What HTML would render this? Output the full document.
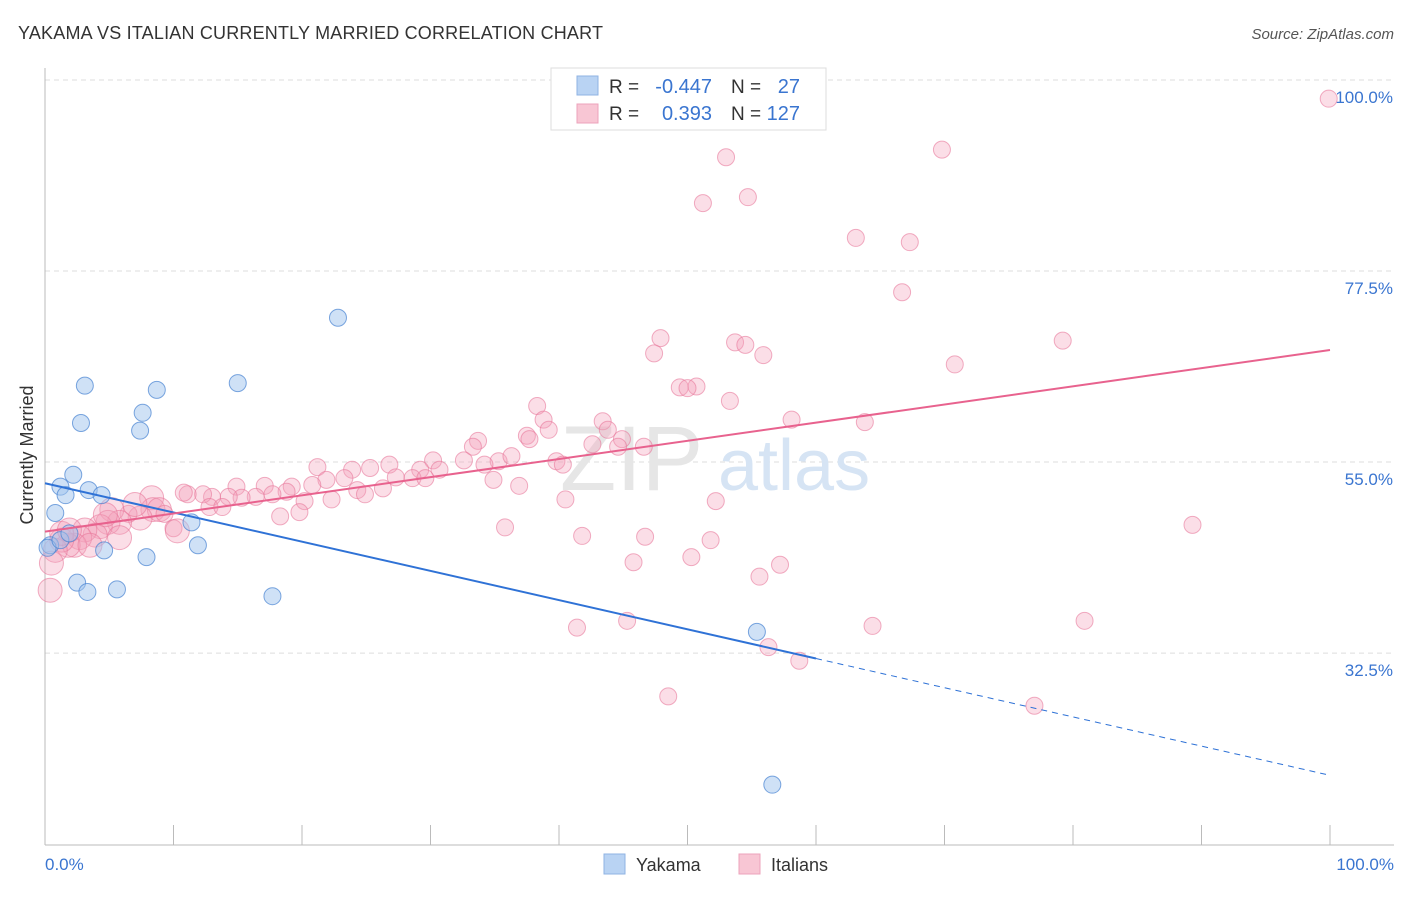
<!DOCTYPE html>
<html><head><meta charset="utf-8"><style>
body{margin:0;background:#fff;font-family:"Liberation Sans",sans-serif;}
svg text{font-family:"Liberation Sans",sans-serif;}
</style></head><body>
<svg width="1406" height="892" xmlns="http://www.w3.org/2000/svg">
<text x="18" y="39" font-size="18" fill="#333" textLength="585">YAKAMA VS ITALIAN CURRENTLY MARRIED CORRELATION CHART</text>
<text x="1394" y="39" font-size="15" fill="#555" font-style="italic" text-anchor="end">Source: ZipAtlas.com</text>
<g id="grid"></g>
<text x="560" y="490" font-size="92" fill="#e6e6e6" font-family="Liberation Serif">ZIP</text>
<text x="718" y="490" font-size="72" fill="#d6e4f4">atlas</text>
<line x1="45" y1="68" x2="45" y2="845" stroke="#bbb"/>
<line x1="45" y1="845" x2="1394" y2="845" stroke="#bbb"/>
<g id="ticks"></g>
<g id="pts"></g>
<g id="trend"></g>
<text x="33" y="455" font-size="18" fill="#333" transform="rotate(-90 33 455)" text-anchor="middle">Currently Married</text>
<text x="45" y="870" font-size="17" fill="#3a75d0">0.0%</text>
<text x="1394" y="870" font-size="17" fill="#3a75d0" text-anchor="end">100.0%</text>
<g>
<rect x="551" y="68" width="275" height="62" fill="#fff" stroke="#ddd"/>
<rect x="577" y="76" width="21" height="19" fill="#b9d3f3" stroke="#8fb3e3"/>
<rect x="577" y="104" width="21" height="19" fill="#f8c6d4" stroke="#eca3bb"/>
<text x="609" y="93" font-size="19" fill="#333">R =</text>
<text x="712" y="93" font-size="20" fill="#3a75d0" text-anchor="end">-0.447</text>
<text x="731" y="93" font-size="19" fill="#333">N =</text>
<text x="800" y="93" font-size="20" fill="#3a75d0" text-anchor="end">27</text>
<text x="609" y="120" font-size="19" fill="#333">R =</text>
<text x="712" y="120" font-size="20" fill="#3a75d0" text-anchor="end">0.393</text>
<text x="731" y="120" font-size="19" fill="#333">N =</text>
<text x="800" y="120" font-size="20" fill="#3a75d0" text-anchor="end">127</text>
</g>
<g>
<rect x="604" y="854" width="21" height="20" fill="#b9d3f3" stroke="#8fb3e3"/>
<text x="636" y="871" font-size="18" fill="#333">Yakama</text>
<rect x="739" y="854" width="21" height="20" fill="#f8c6d4" stroke="#eca3bb"/>
<text x="771" y="871" font-size="18" fill="#333">Italians</text>
</g>
</svg>
<script>
const yTicks=[100,77.5,55,32.5];
const yTickLabels=["100.0%","77.5%","55.0%","32.5%"];
const blueX=[0.4,0.8,1.2,1.6,2.2,3.1,2.8,3.4,4.4,4.6,2.5,3.3,5.6,7.6,7.4,8.7,7.9,11.4,11.9,15.0,17.7,22.8,55.4,56.6,0.2,1.2,1.9];
const blueY=[45.2,49.0,52.1,51.1,53.5,64.0,59.6,51.7,51.1,44.6,40.8,39.7,40.0,60.8,58.7,63.5,43.8,47.9,45.2,64.3,39.2,72.0,35.0,17.0,44.9,45.8,46.6];
const pinkX=[99.9,53.0,69.8,51.2,54.7,63.1,67.3,66.7,47.9,47.4,53.7,54.5,55.9,79.2,70.8,49.4,50.7,50.0,53.3,58.1,63.8,38.3,38.8,39.2,43.4,43.8,42.6,44.9,44.6,46.6,37.5,37.7,33.7,33.3,32.6,35.3,36.3,34.2,39.8,40.3,30.2,30.7,29.2,28.6,29.6,26.8,27.3,25.3,23.9,23.3,21.2,21.9,20.8,19.2,18.8,17.1,17.7,16.4,14.9,15.3,14.3,13.0,12.3,11.1,10.8,12.8,13.8,24.3,24.9,26.3,22.3,20.2,19.8,18.3,36.9,34.9,52.2,40.5,35.8,41.8,46.7,51.8,45.8,50.3,57.2,55.6,89.3,80.9,41.4,45.3,64.4,56.3,58.7,48.5,77.0,8.3,8.4,8.9,9.3,7.4,6.5,5.2,5.8,4.9,4.3,3.9,3.1,2.7,2.3,1.8,1.3,0.8,5.8,10.0,10.3,0.4,0.5,3.5,1.3,1.9,4.7,7.0];
const pinkY=[97.8,90.9,91.8,85.5,86.2,81.4,80.9,75.0,69.6,67.8,69.1,68.8,67.6,69.3,66.5,63.8,63.9,63.7,62.2,60.0,59.7,61.6,60.0,58.8,59.8,58.8,57.1,57.7,56.8,56.8,58.1,57.7,57.5,56.8,55.2,55.1,55.7,54.7,55.1,54.7,55.2,54.1,54.1,53.1,53.1,54.7,53.2,54.3,54.1,53.1,54.4,52.9,52.3,52.1,51.5,52.2,51.2,50.9,52.1,50.8,50.9,50.9,51.2,51.2,51.4,49.7,49.7,51.7,51.2,51.9,50.6,50.4,49.1,48.6,52.2,52.9,50.4,50.6,47.3,46.3,46.2,45.8,43.2,43.8,42.9,41.5,47.6,36.3,35.5,36.3,35.7,33.2,31.6,27.4,26.3,50.8,49.4,49.4,48.9,48.4,48.9,49.4,47.9,47.9,47.4,46.4,47.0,46.1,45.2,45.2,45.8,44.6,46.1,47.2,46.9,39.9,43.1,45.2,46.6,47.0,48.8,50.0];
const pinkBig=[0,0,0,0,0,0,0,0,0,0,0,0,0,0,0,0,0,0,0,0,0,0,0,0,0,0,0,0,0,0,0,0,0,0,0,0,0,0,0,0,0,0,0,0,0,0,0,0,0,0,0,0,0,0,0,0,0,0,0,0,0,0,0,0,0,0,0,0,0,0,0,0,0,0,0,0,0,0,0,0,0,0,0,0,0,0,0,0,0,0,0,0,0,0,0,1,1,1,0,1,0,1,1,1,1,1,1,1,1,1,1,1,1,0,1,1,1,1,1,1,1,1];
const blueTrend=[52.5,18.1];
const pinkTrend=[46.8,68.2];
const blueSolidEnd=60;
const NS='http://www.w3.org/2000/svg';
const sx=v=>45+v*12.85, sy=v=>80+(100-v)*8.49;
function mk(t,a,p){const e=document.createElementNS(NS,t);for(const k in a)e.setAttribute(k,a[k]);p.appendChild(e);return e;}
const grid=document.getElementById('grid');
yTicks.forEach((v,i)=>{
 const l=mk('line',{x1:45,x2:1394,y1:sy(v),y2:sy(v),stroke:'#ddd','stroke-dasharray':'5,4'},grid);
 
 
 const t=mk('text',{x:1393,y:sy(v)+23,'font-size':17,fill:'#3a75d0','text-anchor':'end'},grid);
 t.textContent=yTickLabels[i];
 
 
});
const tk=document.getElementById('ticks');
for(let i=0;i<=10;i++){const l=mk('line',{x1:sx(i*10),x2:sx(i*10),y1:825,y2:845,stroke:'#bbb'},tk);
 
 }
const pts=document.getElementById('pts');
pinkX.forEach((x,i)=>{const c=mk('circle',{cx:sx(x),cy:sy(pinkY[i]),r:pinkBig[i]?12:8.5,fill:'rgba(244,160,186,0.35)',stroke:'rgba(232,120,155,0.6)','stroke-width':1},pts);
 
 });
blueX.forEach((x,i)=>{const c=mk('circle',{cx:sx(x),cy:sy(blueY[i]),r:8.5,fill:'rgba(160,195,238,0.5)',stroke:'rgba(70,130,210,0.7)','stroke-width':1},pts);
 
 });
const tr=document.getElementById('trend');
const by=x=>blueTrend[0]+(blueTrend[1]-blueTrend[0])*x/100;
let l1=mk('line',{x1:sx(0),y1:sy(by(0)),x2:sx(blueSolidEnd),y2:sy(by(blueSolidEnd)),stroke:'#2f72d6','stroke-width':2},tr);


let l2=mk('line',{x1:sx(blueSolidEnd),y1:sy(by(blueSolidEnd)),x2:sx(100),y2:sy(by(100)),stroke:'#2f72d6','stroke-width':1,'stroke-dasharray':'6,5'},tr);


let l3=mk('line',{x1:sx(0),y1:sy(pinkTrend[0]),x2:sx(100),y2:sy(pinkTrend[1]),stroke:'#e8628e','stroke-width':2},tr);


</script>
</body></html>
